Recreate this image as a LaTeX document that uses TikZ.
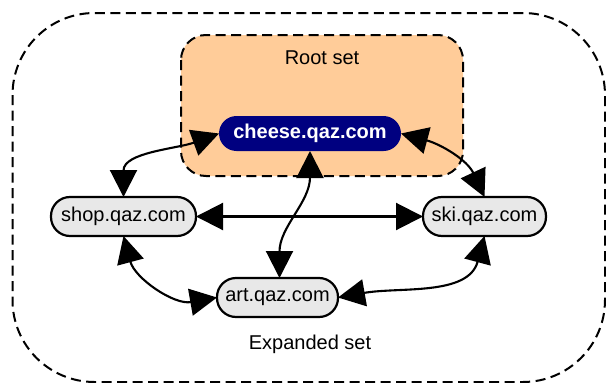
\documentclass[tikz,border=0pt]{standalone}
\usepackage{fontspec}
\setmainfont{Liberation Sans}
\usetikzlibrary{arrows.meta}
\definecolor{rootfill}{HTML}{FFCC99}
\definecolor{navyfill}{HTML}{000080}
\definecolor{pagefill}{HTML}{E8E8E8}
\tikzset{
  setframe/.style={draw=black, line width=2pt, dash pattern=on 10pt off 5.5pt},
  page/.style={draw=black, line width=2.2pt, fill=pagefill, rounded corners=19pt,
    minimum height=39pt, inner sep=0pt, outer sep=0pt,
    font=\fontsize{20}{24}\selectfont},
  rootpage/.style={fill=navyfill, text=white, rounded corners=17.5pt,
    minimum height=35pt, minimum width=182pt, inner sep=0pt, outer sep=0pt,
    font=\fontsize{20}{24}\selectfont\bfseries},
  label/.style={font=\fontsize{20}{24}\selectfont},
  bigtip/.tip={Triangle[length=27pt,width=27pt]},
  link/.style={line width=2.1pt, bigtip-bigtip}
}
\begin{document}
\begin{tikzpicture}[x=1pt,y=-1pt]
  \useasboundingbox (0,0) rectangle (606,383);
  % expanded set frame
  \draw[setframe, rounded corners=82pt] (12.5,13) rectangle (605,382);
  \node[label] (expanded) at (310,344) {Expanded set};
  % root set frame
  \draw[setframe, fill=rootfill, rounded corners=25pt] (181,35) rectangle (463,176);
  \node[label] (rootlbl) at (322,58) {Root set};
  % pages
  \node[rootpage] (cheese) at (310,133.5) {cheese.qaz.com};
  \node[page, minimum width=145pt] (shop) at (123.5,216.5) {shop.qaz.com};
  \node[page, minimum width=123pt] (ski) at (484.5,216.5) {ski.qaz.com};
  \node[page, minimum width=121pt] (art) at (277.5,297.5) {art.qaz.com};
  % links
  \draw[link] (shop.north) to[out=90, in=200] (cheese.west);
  \draw[link] (cheese.east) to[out=-15, in=115] (ski.north);
  \draw[link] (cheese.south) to[out=-90, in=90] ([xshift=2pt]art.north);
  \draw[link] (shop.east) -- (ski.west);
  \draw[link] (shop.south) to[out=-75, in=190] (art.west);
  \draw[link] (ski.south) to[out=-105, in=10] (art.east);
\end{tikzpicture}
\end{document}
